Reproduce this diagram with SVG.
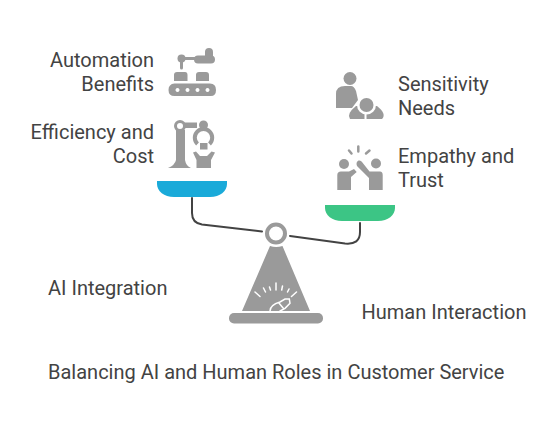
<svg xmlns="http://www.w3.org/2000/svg" width="558" height="432" viewBox="0 0 558 432">
<style>
.t{font-family:"Roboto","Liberation Sans",sans-serif;font-size:20px;fill:#434343}
.e{text-anchor:end}
.i{fill:#9a9a9a}
.s{fill:none;stroke:#9a9a9a;stroke-linecap:round}
.w{stroke:#fff;fill:none;stroke-linecap:round}
.c{fill:none;stroke:#434343;stroke-width:2;stroke-linecap:round}
</style>
<rect width="558" height="432" fill="#fff"/>
<g id="connectors">
<path class="c" d="M192 198V213Q192 223 202 224.500L262 231.500"/>
<path class="c" d="M290 236L345 243.500Q360 245 360 232V223"/>
</g>
<g id="left-pan"><path d="M157 181H227V184C227 191 220 197 210 197H174C164 197 157 191 157 184Z" fill="#1aaad9"/></g>
<g id="right-pan"><path d="M325 205H395V208C395 215 388 221 378 221H342C332 221 325 215 325 208Z" fill="#3cc585"/></g>
<g id="scale">
<path class="i" d="M270 246Q276 248 282.500 246L310 311H242Z"/>
<circle cx="276" cy="233.500" r="9" fill="none" stroke="#9a9a9a" stroke-width="4"/>
<rect class="i" x="229" y="313" width="94" height="10.500" rx="5"/>
<path class="w" stroke-width="1.500" d="M255 292L260 296.500M263.500 288L265.500 292M269.500 287L270.500 290M276 283V290M282.500 286L281.700 290M289 289L287.500 292M296.500 292L291.500 296.500"/>
<path class="w" stroke-width="1.500" d="M270 311Q270 305 280 302L285 299H289.300L290 303.300L285 308.300L280 311M278.500 302.500L283.500 308.500"/>
</g>
<g id="automation-benefits">
<text class="t e" x="154" y="66.700">Automation</text><text class="t e" x="154" y="90.700">Benefits</text>
<circle class="i" cx="181.500" cy="58.500" r="4"/>
<path class="s" stroke-width="3" d="M181.500 58.500H197M181.500 60V68"/>
<path class="s" stroke-width="8" d="M198 59.500H211M209 52V58"/>
<path class="i" d="M174 81V75Q174 72 177 72H185Q187.500 72 187.500 75V81ZM196 81V75Q196 72 199 72H206Q209 72 209 75V81Z"/>
<path class="i" fill-rule="evenodd" d="M174.500 83.500H210Q216 83.500 216 90T210 96H174.500Q168.500 96 168.500 90T174.500 83.500ZM177.500 88a2 2 0 1 0 .01 0ZM187.500 88a2 2 0 1 0 .01 0ZM197.500 88a2 2 0 1 0 .01 0ZM207.500 88a2 2 0 1 0 .01 0Z"/>
</g>
<g id="efficiency-cost">
<text class="t e" x="154" y="138.700">Efficiency and</text><text class="t e" x="154" y="162.700">Cost</text>
<circle cx="180" cy="126" r="4.500" fill="none" stroke="#9a9a9a" stroke-width="3"/>
<path class="i" d="M184 122.500H197V128H185ZM176 130H185V160Q186 166 191 168H168Q175 165 176 160Z"/>
<circle class="i" cx="203.500" cy="125" r="4.500"/>
<path d="M197.500 144A8.700 8.700 0 1 1 209.500 144" fill="none" stroke="#9a9a9a" stroke-width="4"/>
<rect class="i" x="200" y="143" width="7.500" height="6.500"/>
<path class="i" d="M193 152.500L196 151.500L200 156H207L211.500 151.500L215 152.500L211 160V168H196.500V160Z"/>
</g>
<g id="sensitivity-needs">
<text class="t" x="398" y="90.700">Sensitivity</text><text class="t" x="398" y="114.700">Needs</text>
<circle class="i" cx="350" cy="78.500" r="6.500"/>
<path class="i" d="M336 108V94Q336 86 345 86H351Q354 86 356 91L358 100L352 108Z"/>
<path class="i" d="M350 119Q346 114 356 106H377Q387 114 382 119Z"/>
<circle cx="366.500" cy="105" r="9.500" fill="#fff"/>
<path class="w" stroke-width="2" d="M365.500 113V119"/>
<circle class="i" cx="366.500" cy="105" r="7"/>
</g>
<g id="empathy-trust">
<text class="t" x="398" y="162.700">Empathy and</text><text class="t" x="398" y="186.700">Trust</text>
<path class="s" stroke-width="2.500" d="M358.300 146.500V151.500M349 150.500L351.500 153.500M369.500 150.500L366 153.500"/>
<circle class="i" cx="344" cy="164" r="5"/>
<circle class="i" cx="376" cy="163.500" r="5"/>
<path class="i" d="M337.300 190V175Q337.300 171.500 341 171.500H349L354 169L356.700 172L351 177V190Z"/>
<path class="i" d="M369 190V178L357 166Q355.500 162 358.500 160.500Q361 160 362 162L369.500 171.500H380Q382.700 171.500 382.700 175V190Z"/>
</g>
<text id="ai-integration" class="t" x="48" y="294.700">AI Integration</text>
<text id="human-interaction" class="t" x="361.500" y="318.700">Human Interaction</text>
<text id="title" class="t" x="48" y="378.500">Balancing AI and Human Roles in Customer Service</text>
</svg>
